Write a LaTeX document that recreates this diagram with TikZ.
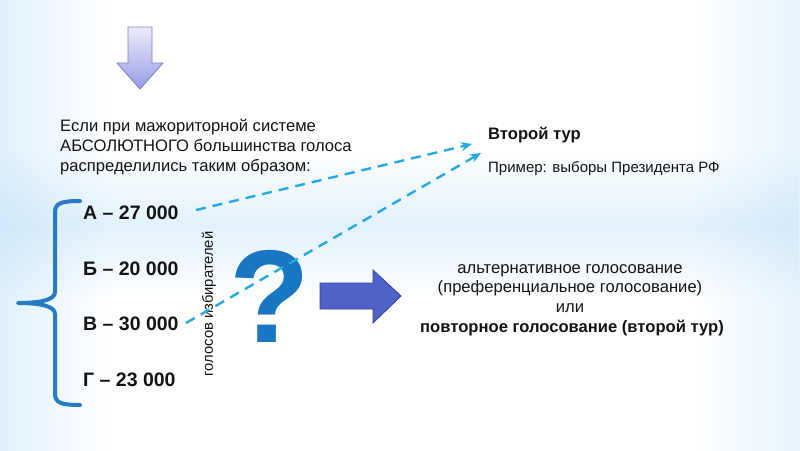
\documentclass[tikz,border=0pt]{standalone}
\usepackage{fontspec}
\setmainfont{Liberation Sans}
\usetikzlibrary{arrows.meta,fadings}
\definecolor{bgb}{RGB}{158,211,249}
\definecolor{bgm}{RGB}{188,226,251}
\definecolor{bgl}{RGB}{218,238,252}
\definecolor{bandc}{RGB}{190,225,248}
\definecolor{dtop}{RGB}{236,236,250}
\definecolor{dbot}{RGB}{150,156,228}
\definecolor{dbord}{RGB}{120,128,200}
\definecolor{rfill}{RGB}{78,98,200}
\definecolor{rbord}{RGB}{50,66,150}
\definecolor{qblue}{RGB}{24,118,196}
\definecolor{brblue}{RGB}{40,122,196}
\definecolor{dashblue}{RGB}{40,168,224}
\definecolor{txt}{RGB}{20,20,20}
\pgfdeclarehorizontalshading{bgshade}{100bp}{color(0bp)=(bgb); color(12bp)=(bgm); color(24bp)=(bgl); color(32bp)=(white); color(68bp)=(white); color(78bp)=(bgl); color(89bp)=(bgm); color(100bp)=(bgb)}
\tikzfading[name=bandfade, top color=transparent!100, bottom color=transparent!100, middle color=transparent!55]
\tikzset{
  plain/.style={font=\fontsize{16.6}{20}\selectfont, text=txt, inner sep=0pt},
  plainb/.style={font=\fontsize{16.6}{20}\selectfont\bfseries, text=txt, inner sep=0pt},
  item/.style={font=\fontsize{19.5}{22}\selectfont\bfseries, text=txt, inner sep=0pt, anchor=base west},
  dasharrow/.style={draw=dashblue, line width=2.4pt, dash pattern=on 10pt off 7pt, -{Stealth[length=11pt,width=9pt]}},
}
\begin{document}
\begin{tikzpicture}[x=1pt,y=-1pt]
\useasboundingbox (0,0) rectangle (800,450);
\shade[shading=bgshade] (0,0) rectangle (800,450);
\fill[bandc, path fading=bandfade] (0,150) rectangle (800,300);

% down arrow
\draw[draw=dbord, line width=0.8pt, top color=dtop, bottom color=dbot]
  (128,27) -- (152,27) -- (152,63) -- (163,63) -- (140,89) -- (117,63) -- (128,63) -- cycle;

% left text
\node[plain, anchor=base west] (l1) at (60,131) {Если при мажориторной системе};
\node[plain, anchor=base west] (l2) at (60,151) {АБСОЛЮТНОГО большинства голоса};
\node[plain, anchor=base west] (l3) at (60,171) {распределились таким образом:};

% right top text
\node[plainb, anchor=base west] (t1) at (488,139) {Второй тур};
\node[plain, anchor=base west, font=\fontsize{15}{19}\selectfont] (t2) at (488,172) {Пример: выборы Президента РФ};

% brace
\draw[brblue, line width=4pt, line cap=round, line join=round]
  (80,201) .. controls (62,201) and (55,203) .. (55,212) -- (55,292)
  .. controls (55,300) and (40,303) .. (18,303)
  .. controls (40,303) and (55,306) .. (55,314) -- (55,394)
  .. controls (55,403) and (62,405) .. (80,405);

% items
\node[item] (a) at (83,219) {А – 27 000};
\node[item] (b) at (83,275) {Б – 20 000};
\node[item] (v) at (83,330) {В – 30 000};
\node[item] (g) at (83,386) {Г – 23 000};

% rotated text
\node[plain, font=\fontsize{14.8}{15}\selectfont, rotate=90] (vot) at (209,304) {голосов избирателей};

% question mark
\node[text=qblue, inner sep=0pt, font=\fontsize{132}{132}\selectfont\bfseries] (q) at (270,296) {?};

% right arrow
\draw[fill=rfill, draw=rbord, line width=0.8pt]
  (320,283) -- (373,283) -- (373,270) -- (401,296) -- (373,323) -- (373,309) -- (320,309) -- cycle;

% right text block
\node[plain, anchor=base] (r1) at (570,273) {альтернативное голосование};
\node[plain, anchor=base] (r2) at (570,292) {(преференциальное голосование)};
\node[plain, anchor=base] (r3) at (570,312) {или};
\node[plainb, anchor=base] (r4) at (572,332) {повторное голосование (второй тур)};

% dashed arrows
\coordinate (s1) at (196,210);
\coordinate (e1) at (472,144);
\coordinate (s2) at (186,323);
\coordinate (e2) at (481,153);
\draw[dasharrow] (s1) -- (e1);
\draw[dasharrow] (s2) -- (e2);
\end{tikzpicture}
\end{document}
